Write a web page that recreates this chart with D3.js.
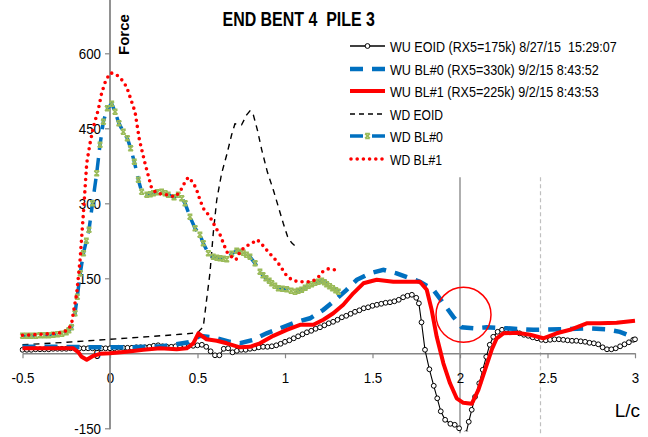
<!DOCTYPE html>
<html><head><meta charset="utf-8">
<script src="https://cdn.jsdelivr.net/npm/d3@7"></script>
<style>
html,body{margin:0;padding:0;background:#fff;}
svg{display:block;font-family:"Liberation Sans",Arial,sans-serif;}
text{white-space:pre;}
</style></head><body>
<svg id="c" width="648" height="437"></svg>
<script>
// ---- data ----
const titleText = "END BENT 4  PILE 3";
const yLabelText = "Force";
const xLabelText = "L/c";
const xTicks = [-0.5, 0, 0.5, 1, 1.5, 2, 2.5, 3];
const xTickLabels = ["-0.5","0","0.5","1","1.5","2","2.5","3"];
const yTicks = [-150, 0, 150, 300, 450, 600];
const yTickLabels = ["-150","0","150","300","450","600"];
const seriesNames = [
  "WU EOID (RX5=175k) 8/27/15  15:29:07",
  "WU BL#0 (RX5=330k) 9/2/15 8:43:52",
  "WU BL#1 (RX5=225k) 9/2/15 8:43:53",
  "WD EOID",
  "WD BL#0",
  "WD BL#1"
];
const refLines = [2.0, 2.46];
const circleMark = [2.02, 77];

const wuEOID = [[-0.5,7],[-0.475,7],[-0.45,7],[-0.425,8],[-0.4,8],[-0.375,8],[-0.35,8],[-0.325,9],[-0.3,9],[-0.275,9],[-0.25,9],[-0.225,10],[-0.2,10],[-0.175,10],[-0.15,10],[-0.125,10],[-0.1,10],[-0.075,10],[-0.05,10],[-0.025,10],[0,10],[0.025,10],[0.05,11],[0.075,11],[0.1,11],[0.125,11],[0.15,12],[0.175,12],[0.2,12],[0.225,13],[0.25,15],[0.275,16],[0.3,14],[0.325,13],[0.35,13],[0.375,14],[0.4,15],[0.425,16],[0.45,15],[0.475,15],[0.5,16],[0.525,17],[0.55,13],[0.575,4],[0.6,-4],[0.625,-4],[0.65,9],[0.675,10],[0.7,2],[0.725,5],[0.75,7],[0.775,7],[0.8,9],[0.825,10],[0.85,12],[0.875,13],[0.9,13],[0.925,14],[0.95,16],[0.975,19],[1.0,23],[1.025,26],[1.05,30],[1.075,34],[1.1,38],[1.125,42],[1.15,45],[1.175,49],[1.2,52],[1.225,56],[1.25,60],[1.275,63],[1.3,67],[1.325,72],[1.35,75],[1.375,79],[1.4,83],[1.425,86],[1.45,90],[1.475,92],[1.5,95],[1.525,97],[1.55,99],[1.575,101],[1.6,102],[1.625,104],[1.65,107],[1.675,112],[1.7,115],[1.725,117],[1.75,111],[1.765,100],[1.78,62],[1.8,7],[1.825,-32],[1.85,-65],[1.87,-90],[1.89,-116],[1.915,-133],[1.945,-141],[1.97,-143],[1.995,-150],[2.015,-168],[2.035,-160],[2.05,-137],[2.067,-113],[2.086,-87],[2.11,-60],[2.13,-33],[2.15,-7],[2.17,17],[2.19,33],[2.215,43],[2.24,47],[2.265,48],[2.29,46],[2.315,44],[2.34,40],[2.365,37],[2.39,35],[2.415,32],[2.44,30],[2.465,27],[2.49,26],[2.515,27],[2.54,28],[2.565,28],[2.59,27],[2.615,26],[2.64,25],[2.665,25],[2.69,24],[2.715,23],[2.74,21],[2.765,20],[2.79,18],[2.815,12],[2.84,8],[2.865,8],[2.89,10],[2.915,14],[2.94,18],[2.965,22],[2.99,27],[3.0,28]];

const wuBL0 = [[-0.5,13],[-0.3,13],[-0.1,12],[0.1,12],[0.3,14],[0.45,22],[0.514,35],[0.59,32],[0.686,23],[0.743,20],[0.819,27],[0.895,40],[0.971,50],[1.067,63],[1.143,70],[1.219,87],[1.276,103],[1.352,127],[1.41,147],[1.486,160],[1.562,167],[1.638,160],[1.714,150],[1.771,143],[1.848,127],[1.905,100],[1.962,73],[2.01,52],[2.076,50],[2.152,52],[2.267,50],[2.419,47],[2.571,48],[2.724,50],[2.838,48],[2.914,43],[2.99,32]];

const wuBL1 = [[-0.5,10],[-0.3,10],[-0.21,10],[-0.18,2],[-0.162,-7],[-0.133,-13],[-0.095,-5],[-0.057,-1],[0,0],[0.095,3],[0.19,7],[0.286,10],[0.381,8],[0.438,10],[0.476,20],[0.505,40],[0.552,28],[0.61,25],[0.667,20],[0.743,12],[0.8,13],[0.857,20],[0.933,35],[1.01,47],[1.086,57],[1.162,57],[1.219,67],[1.276,80],[1.333,97],[1.39,120],[1.448,140],[1.524,147],[1.619,143],[1.714,143],[1.771,143],[1.81,127],[1.838,87],[1.867,33],[1.905,-20],[1.943,-60],[1.981,-90],[2.019,-99],[2.067,-101],[2.105,-73],[2.143,-33],[2.181,7],[2.21,30],[2.248,40],[2.324,41],[2.4,37],[2.476,30],[2.552,40],[2.629,47],[2.724,60],[2.8,60],[2.895,61],[3.0,65]];

const wdEOID = [[-0.5,17],[-0.25,22],[0,28],[0.25,34],[0.4,38],[0.5,41],[0.533,53],[0.552,107],[0.571,160],[0.59,240],[0.61,307],[0.638,360],[0.667,397],[0.695,437],[0.714,459],[0.752,457],[0.781,477],[0.8,485],[0.819,477],[0.842,447],[0.867,407],[0.899,363],[0.933,327],[0.962,293],[0.99,260],[1.015,233],[1.038,221],[1.057,215]];

const wdBL0 = [[-0.5,35],[-0.475,35],[-0.45,35],[-0.425,35],[-0.4,36],[-0.375,36],[-0.35,36],[-0.325,37],[-0.3,38],[-0.275,39],[-0.25,42],[-0.235,46],[-0.22,52],[-0.2,80],[-0.187,113],[-0.17,160],[-0.152,200],[-0.135,225],[-0.12,247],[-0.1,300],[-0.076,360],[-0.057,417],[-0.038,463],[-0.015,490],[0.01,499],[0.029,483],[0.051,460],[0.076,443],[0.099,430],[0.118,410],[0.139,383],[0.162,347],[0.181,323],[0.21,317],[0.23,318],[0.248,320],[0.27,322],[0.295,323],[0.315,320],[0.333,317],[0.366,312],[0.39,317],[0.41,310],[0.429,300],[0.457,273],[0.486,250],[0.514,237],[0.533,220],[0.562,200],[0.59,193],[0.61,191],[0.629,190],[0.648,189],[0.667,188],[0.695,199],[0.724,205],[0.743,203],[0.762,201],[0.78,197],[0.8,193],[0.829,180],[0.857,163],[0.874,156],[0.891,150],[0.91,145],[0.924,140],[0.942,135],[0.962,130],[0.985,129],[1.01,128],[1.035,125],[1.057,123],[1.075,125],[1.095,127],[1.115,131],[1.133,135],[1.152,138],[1.171,141],[1.19,143],[1.21,145],[1.225,142],[1.238,138],[1.255,134],[1.272,130],[1.29,126],[1.305,123]];

const wdBL1 = [[-0.5,36],[-0.45,37],[-0.4,38],[-0.35,39],[-0.3,40],[-0.27,42],[-0.238,47],[-0.219,60],[-0.21,80],[-0.2,100],[-0.19,120],[-0.171,187],[-0.152,280],[-0.133,380],[-0.114,420],[-0.095,453],[-0.067,487],[-0.048,520],[-0.023,547],[0.004,561],[0.038,557],[0.067,547],[0.095,533],[0.12,507],[0.143,483],[0.168,427],[0.2,380],[0.238,330],[0.267,320],[0.324,317],[0.371,313],[0.4,323],[0.425,340],[0.447,352],[0.476,341],[0.495,327],[0.514,307],[0.533,290],[0.556,280],[0.581,267],[0.606,250],[0.629,237],[0.648,220],[0.667,203],[0.695,193],[0.72,187],[0.743,203],[0.771,213],[0.806,219],[0.842,227],[0.87,217],[0.899,205],[0.93,193],[0.956,183],[0.981,170],[1.006,157],[1.038,147],[1.076,143],[1.114,143],[1.152,143],[1.185,150],[1.215,163],[1.248,169],[1.286,167]];

// ---- chart ----
const svg = d3.select("#c");
const x = d3.scaleLinear().domain([-0.5, 3]).range([22.5, 635]);
const y = d3.scaleLinear().domain([-150, 600]).range([428.3, 53.3]);
const axisColor = "#868686";
function squeeze(sel, k){ sel.each(function(){ const w=this.getComputedTextLength(); d3.select(this).attr("textLength", w*k).attr("lengthAdjust","spacingAndGlyphs"); }); }

svg.append("defs").append("clipPath").attr("id","plot")
  .append("rect").attr("x", x(-0.5)-3).attr("y", -30).attr("width", x(3)-x(-0.5)+6).attr("height", y(-150)+3+30);

// title (horizontally condensed via transform)
const tg = svg.append("g");
const tt = tg.append("text").attr("font-weight","bold").attr("font-size", 20).text(titleText);
const tw = tt.node().getComputedTextLength();
tg.attr("transform", `translate(222.5,25.5) scale(${152.5/tw},1)`);

// reference vertical lines
svg.append("line").attr("x1", x(refLines[0])).attr("x2", x(refLines[0]))
  .attr("y1", y(352)).attr("y2", y(-160)).attr("stroke", "#a6a6a6").attr("stroke-width", 1.8);
svg.append("line").attr("x1", x(refLines[1])).attr("x2", x(refLines[1]))
  .attr("y1", y(352)).attr("y2", y(-160)).attr("stroke", "#bfbfbf").attr("stroke-width", 1.2)
  .attr("stroke-dasharray", "4 3");

// axes
const xAxis = svg.append("g").attr("transform", `translate(0,${y(0)})`)
  .call(d3.axisBottom(x).tickValues(xTicks).tickFormat((d,i)=>xTickLabels[i]).tickSize(5).tickSizeOuter(0).tickPadding(14));
xAxis.select(".domain").attr("stroke", axisColor).attr("stroke-width", 1.5);
xAxis.selectAll(".tick line").attr("stroke", axisColor).attr("stroke-width", 1.2);
xAxis.selectAll(".tick text").attr("font-size", 15.5).attr("fill","#000")
  .attr("font-family", '"Liberation Sans",Arial,sans-serif');
squeeze(xAxis.selectAll(".tick text"), 0.86);

const yAxisG = svg.append("g").attr("transform", `translate(${x(0)},0)`)
  .call(d3.axisLeft(y).tickValues(yTicks).tickFormat((d,i)=>yTickLabels[i]).tickSize(5).tickSizeOuter(0).tickPadding(4));
yAxisG.select(".domain").remove();
yAxisG.append("line").attr("x1",0).attr("x2",0).attr("y1",0).attr("y2",y(-150)+1)
  .attr("stroke", axisColor).attr("stroke-width", 1.8);
yAxisG.selectAll(".tick line").attr("stroke", axisColor).attr("stroke-width", 1.2);
yAxisG.selectAll(".tick text").attr("font-size", 15.5).attr("fill","#000")
  .attr("font-family", '"Liberation Sans",Arial,sans-serif');
squeeze(yAxisG.selectAll(".tick text"), 0.86);

// axis titles
svg.append("text").attr("transform", `translate(${x(0)+19},55) rotate(-90)`)
  .attr("font-weight","bold").attr("font-size", 15).attr("text-anchor","start").text(yLabelText);
svg.append("text").attr("x", 640).attr("y", 417).attr("text-anchor","end")
  .attr("font-size", 19).text(xLabelText);

// series
const line = d3.line().x(d=>x(d[0])).y(d=>y(d[1]));
const g = svg.append("g").attr("clip-path","url(#plot)");
const blue = "#0070C0", red = "#FF0000", green = "#9BBB59";
const xMark = "M-2.4,-2.4L2.4,2.4M2.4,-2.4L-2.4,2.4M-2.4,-2.5H2.4M-2.4,2.5H2.4";

g.append("path").attr("d", line(wdEOID)).attr("fill","none").attr("stroke","#000")
  .attr("stroke-width",1.4).attr("stroke-dasharray","6 5");
g.append("path").attr("d", line(wuEOID)).attr("fill","none").attr("stroke","#000").attr("stroke-width",1.1);
g.selectAll("circle.eoid").data(wuEOID).join("circle").attr("class","eoid")
  .attr("cx", d=>x(d[0])).attr("cy", d=>y(d[1])).attr("r", 2.4)
  .attr("fill","#fff").attr("stroke","#000").attr("stroke-width",1);
g.append("path").attr("d", line(wuBL0)).attr("fill","none").attr("stroke",blue)
  .attr("stroke-width",4.5).attr("stroke-dasharray","13 9");
g.append("path").attr("d", line(wuBL1)).attr("fill","none").attr("stroke",red)
  .attr("stroke-width",4).attr("stroke-linejoin","round");
g.append("path").attr("d", line(wdBL0)).attr("fill","none").attr("stroke",blue)
  .attr("stroke-width",3.5).attr("stroke-dasharray","13 8");
g.selectAll("path.mk").data(wdBL0).join("path").attr("class","mk")
  .attr("transform", d=>`translate(${x(d[0])},${y(d[1])})`)
  .attr("d", xMark).attr("stroke",green).attr("stroke-width",1.6).attr("fill","none");
g.append("path").attr("d", line(wdBL1)).attr("fill","none").attr("stroke",red)
  .attr("stroke-width",3.6).attr("stroke-dasharray","0 6.2").attr("stroke-linecap","round");

// annotation circle
svg.append("circle").attr("cx", x(circleMark[0])).attr("cy", y(circleMark[1])).attr("r", 27.5)
  .attr("fill","none").attr("stroke", red).attr("stroke-width", 1.5);

// legend
const lg = svg.append("g");
const rowY = [46, 69, 91, 114, 136, 159];
const textW = [227, 209, 209, 53, 53, 52];
const lx0 = 350, lx1 = 385;
seriesNames.forEach((name,i)=>{
  const yy = rowY[i];
  const r = lg.append("g");
  if(i===0){
    r.append("line").attr("x1",lx0).attr("x2",lx1).attr("y1",yy).attr("y2",yy).attr("stroke","#000").attr("stroke-width",1.3);
    r.append("circle").attr("cx",(lx0+lx1)/2).attr("cy",yy).attr("r",2.4).attr("fill","#fff").attr("stroke","#000");
  } else if(i===1){
    r.append("line").attr("x1",lx0).attr("x2",lx1).attr("y1",yy).attr("y2",yy).attr("stroke",blue).attr("stroke-width",4.5).attr("stroke-dasharray","13 9");
  } else if(i===2){
    r.append("line").attr("x1",lx0).attr("x2",lx1).attr("y1",yy).attr("y2",yy).attr("stroke",red).attr("stroke-width",4);
  } else if(i===3){
    r.append("line").attr("x1",lx0).attr("x2",lx1).attr("y1",yy).attr("y2",yy).attr("stroke","#000").attr("stroke-width",1.4).attr("stroke-dasharray","5 4");
  } else if(i===4){
    r.append("line").attr("x1",lx0).attr("x2",lx1).attr("y1",yy).attr("y2",yy).attr("stroke",blue).attr("stroke-width",3.5).attr("stroke-dasharray","13 9");
    r.append("path").attr("transform",`translate(${(lx0+lx1)/2},${yy})`).attr("d", xMark).attr("stroke",green).attr("stroke-width",1.6);
  } else {
    r.append("line").attr("x1",lx0+1).attr("x2",lx1).attr("y1",yy).attr("y2",yy).attr("stroke",red).attr("stroke-width",3.6).attr("stroke-dasharray","0 6.2").attr("stroke-linecap","round");
  }
  const tgrp = r.append("g");
  const t = tgrp.append("text").attr("font-size",15).attr("fill","#000").text(name);
  const w = t.node().getComputedTextLength();
  tgrp.attr("transform", `translate(390,${yy+5.5}) scale(${textW[i]/w},1)`);
});
</script>
</body></html>
